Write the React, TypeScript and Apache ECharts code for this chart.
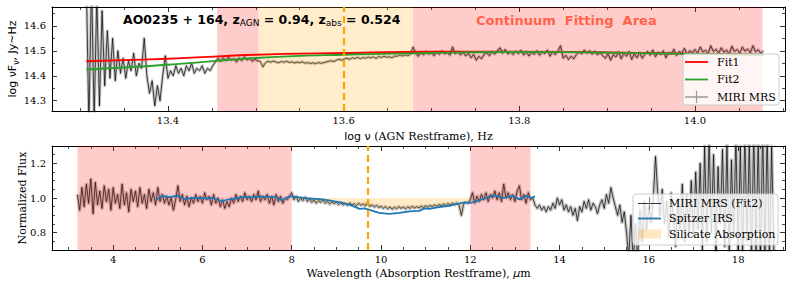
import React, { useEffect, useRef } from "react";
import * as echarts from "echarts";

// ---------------- Top panel: log nuFnu vs log nu (AGN restframe) ----------------
const topNuStart = 13.307;
const topNuStep = 0.003;
const topLogNuFnu = [
  // 13.307 - 13.325 (very noisy edge)
  14.80, 14.20, 14.78, 14.22, 14.72, 14.28, 14.66,
  14.36, 14.58, 14.39, 14.55, 14.38,
  14.50, 14.41, 14.47, 14.39, 14.46, 14.42, 14.49, 14.40, 14.45, 14.43, 14.55,
  14.40, 14.33, 14.38, 14.28, 14.36, 14.30,
  14.40, 14.48, 14.39, 14.42, 14.40, 14.44, 14.41, 14.43, 14.40, 14.44,
  14.42, 14.45, 14.41, 14.43, 14.42, 14.44, 14.41, 14.43, 14.42, 14.44,
  // pink window
  14.455, 14.47, 14.458, 14.472, 14.46, 14.475, 14.462, 14.468, 14.455, 14.472,
  14.46, 14.476, 14.463, 14.47, 14.458, 14.466, 14.46,
  // silicate window
  14.458, 14.435, 14.452, 14.458, 14.454, 14.459, 14.455, 14.452, 14.457, 14.454,
  14.458, 14.453, 14.456, 14.451, 14.455, 14.452, 14.456, 14.450, 14.453, 14.449,
  14.452, 14.448, 14.453, 14.450, 14.452,
  14.455, 14.458, 14.46, 14.457, 14.463, 14.466, 14.462, 14.468,
  14.47, 14.466, 14.472, 14.469, 14.474, 14.468, 14.473, 14.47, 14.475, 14.471,
  14.476, 14.469, 14.477, 14.473, 14.478, 14.474, 14.476, 14.472, 14.479,
  14.478, 14.483, 14.479, 14.484, 14.48, 14.486, 14.515,
  // continuum window
  14.49, 14.478, 14.495, 14.483, 14.498, 14.486, 14.492, 14.48, 14.496, 14.485,
  14.5, 14.487, 14.493, 14.482,
  14.515,
  14.488, 14.497, 14.483, 14.494, 14.479, 14.49, 14.472, 14.485, 14.462, 14.478, 14.468,
  14.486, 14.492, 14.48, 14.497, 14.486, 14.50, 14.512, 14.49, 14.505, 14.487,
  14.495, 14.485, 14.499, 14.488, 14.502, 14.483, 14.497, 14.479, 14.494, 14.486,
  14.5, 14.482, 14.496, 14.488, 14.503, 14.478, 14.495, 14.485, 14.499, 14.52,
  14.47, 14.482, 14.465, 14.478, 14.468, 14.485,
  14.495, 14.488, 14.503, 14.49, 14.5, 14.486, 14.498, 14.484, 14.493, 14.48,
  14.47, 14.488, 14.462, 14.485, 14.475, 14.495, 14.468, 14.49, 14.478, 14.497,
  14.465, 14.488, 14.472, 14.494, 14.47, 14.486,
  14.498, 14.482, 14.503, 14.476, 14.495, 14.485, 14.5, 14.472, 14.493, 14.488,
  14.506, 14.481, 14.497, 14.49, 14.51, 14.485, 14.5, 14.492,
  14.505, 14.49, 14.515, 14.495, 14.502, 14.488, 14.52, 14.497, 14.506, 14.49,
  14.512, 14.494, 14.503, 14.486, 14.518, 14.497, 14.505, 14.49, 14.515, 14.498,
  14.507, 14.492, 14.52, 14.496, 14.504, 14.49, 14.5,
];

const fitLogNu = [13.307, 13.40, 13.50, 13.60, 13.70, 13.79, 13.89, 13.98, 14.078];
const fit1Values = [14.458, 14.468, 14.484, 14.491, 14.496, 14.496, 14.494, 14.489, 14.484];
const fit2Values = [14.425, 14.444, 14.471, 14.484, 14.491, 14.495, 14.493, 14.488, 14.484];

const topRegionStart = [13.456, 13.503, 13.679];
const topRegionEnd = [13.503, 13.679, 14.077];
const topRegionKind = ["fit", "silicate", "fit"];
const topSilicateLine = 13.595;

// ---------------- Bottom panel: normalized flux vs wavelength (absorber restframe) ----------------
const botWaveStart = 3.2;
const botWaveStep = 0.05;
const botNormFlux = [
  // 3.20 - 4.95
  1.02, 0.93, 1.06, 0.95, 1.08, 0.97, 1.11, 0.91, 1.09, 0.96,
  1.04, 0.94, 1.07, 0.98, 1.05, 0.93, 1.06, 0.97, 1.02, 0.94,
  1.08, 0.96, 1.03, 0.92, 1.05, 0.98, 1.04, 0.95, 1.06, 0.97,
  1.02, 0.94, 1.05, 0.98, 1.03, 0.96,
  // 5.00 - 7.95
  1.06, 0.98, 1.02, 0.97, 1.01, 0.96, 1.0, 0.93, 0.99, 1.07,
  0.98, 1.02, 0.96, 1.01, 0.95, 1.0, 0.97, 1.02, 0.98, 1.01,
  0.97, 1.03, 0.99, 1.01, 0.96, 1.02, 0.97, 1.0, 0.95, 0.99,
  0.94, 0.98, 0.95, 1.0, 0.97, 1.02, 0.98, 1.01, 0.98, 1.03,
  0.99, 1.01, 0.98, 1.02, 0.99, 1.04, 0.98, 1.01, 0.99, 1.02,
  0.97, 1.01, 0.96, 1.02, 0.98, 1.01, 0.97, 1.0, 0.99, 1.01,
  // 8.00 - 8.95
  1.03, 0.99, 1.01, 0.98, 1.0, 0.985, 1.005, 0.98, 0.995, 0.975,
  0.99, 0.97, 0.985, 0.975, 0.99, 0.97, 0.98, 0.965, 0.978, 0.968,
  // 9.00 - 11.95
  0.975, 0.962, 0.972, 0.96, 0.968, 0.958, 0.972, 0.96, 0.967, 0.955,
  0.97, 0.958, 0.966, 0.955, 0.975, 0.952, 0.96, 0.948, 0.958, 0.945,
  0.952, 0.94, 0.95, 0.938, 0.948, 0.936, 0.946, 0.938, 0.95, 0.94,
  0.948, 0.937, 0.95, 0.94, 0.952, 0.942, 0.95, 0.943, 0.953, 0.945,
  0.955, 0.947, 0.957, 0.95, 0.96, 0.952, 0.962, 0.955, 0.965, 0.957,
  0.968, 0.96, 0.97, 0.962, 0.972, 0.958, 0.90, 0.965, 0.975, 0.97,
  // 12.00 - 13.30
  0.99, 1.03, 0.97, 1.01, 0.98, 1.02, 0.99, 1.03, 0.98, 1.02,
  1.0, 1.04, 0.99, 1.03, 0.98, 1.08, 1.0, 1.03, 0.99, 1.02,
  0.98, 1.04, 1.07, 0.99, 1.02, 0.97, 1.03,
  // 13.35 - 15.25
  0.99, 1.0, 0.96, 0.94, 0.96, 0.93, 0.95, 0.92, 0.95, 0.93,
  0.97, 0.94, 1.0, 0.96, 0.99, 0.93, 0.96, 0.92, 0.95, 0.9,
  0.94, 0.87, 0.95, 0.92, 0.98, 0.94, 0.99, 0.93, 0.97, 0.95,
  0.91, 0.96, 0.99, 0.94, 1.02, 0.97, 1.06, 1.0, 0.95,
  // 15.30 - 16.90
  0.9, 0.96, 0.86, 0.92, 0.8, 0.66, 0.9, 0.62, 0.85, 0.65,
  0.93, 0.75, 0.98, 0.82, 0.95, 0.86, 1.0, 1.24, 1.02, 0.9,
  1.05, 0.85, 0.98, 0.78, 1.03, 0.88, 0.72, 1.0, 0.82, 1.08,
  0.75, 1.02, 0.8,
  // 16.95 - 18.80
  1.1, 0.78, 1.15, 0.82, 1.2, 0.7, 1.3, 0.75, 1.35, 0.8,
  1.25, 0.68, 1.18, 0.85, 1.28, 0.72, 1.32, 0.66, 1.22, 0.78,
  1.36, 0.7, 1.3, 0.64, 1.38, 0.75, 1.33, 0.62, 1.4, 0.68,
  1.35, 0.6, 1.42, 0.66, 1.38, 0.62, 1.3, 0.7,
];

const irsWave = [
  4.97, 5.1, 5.25, 5.45, 5.6, 5.75, 5.94, 6.1, 6.23, 6.35,
  6.43, 6.55, 6.66, 6.8, 6.95, 7.1, 7.24, 7.4, 7.62, 7.7,
  7.78, 7.87, 7.95, 8.18, 8.4, 8.62, 8.8, 8.96, 9.1, 9.29,
  9.4, 9.52, 9.63, 9.78, 9.96, 10.19, 10.41, 10.64, 10.86, 10.97,
  11.08, 11.3, 11.53, 11.64, 11.86, 12.0, 12.14, 12.4, 12.5, 12.65,
  12.76, 12.95, 13.1, 13.25, 13.37, 13.45,
];
const irsFlux = [
  0.99, 1.013, 1.005, 1.013, 0.994, 1.0, 1.0, 0.997, 1.0, 0.99,
  0.98, 0.99, 0.994, 1.0, 1.006, 1.004, 1.01, 1.006, 1.006, 1.0,
  0.986, 1.0, 1.01, 1.003, 0.997, 0.994, 0.988, 0.98, 0.975, 0.962,
  0.95, 0.937, 0.94, 0.929, 0.914, 0.908, 0.914, 0.923, 0.926, 0.94,
  0.937, 0.948, 0.955, 0.962, 0.975, 0.972, 0.98, 1.005, 1.015, 1.008,
  1.0, 1.012, 0.992, 1.012, 1.0, 1.01,
];

const botRegionStart = [3.2, 12.0];
const botRegionEnd = [8.0, 13.35];
const silicateStart = 8.0;
const silicateEnd = 12.0;
const botSilicateLine = 9.7;
const continuumLevel = 1.0;

// axis ranges
const topXRange = [13.268, 14.1025];
const topYRange = [14.259, 14.675];
const botXRange = [2.63, 19.05];
const botYRange = [0.7, 1.3];

// colours
const PINK = "rgba(255,0,0,0.2)";
const ORANGE = "rgba(255,165,0,0.2)";
const SERIF = "DejaVu Serif";
const SANS = "DejaVu Sans";

const r4 = (v: number) => Math.round(v * 10000) / 10000;

function isMultiple(v: number, step: number) {
  const q = v / step;
  return Math.abs(q - Math.round(q)) < 1e-6;
}

function makeAxis(o: any) {
  return {
    type: "value",
    gridIndex: o.grid,
    position: o.position,
    min: o.min,
    max: o.max,
    splitNumber: o.split,
    axisLine: { show: true, onZero: false, lineStyle: { color: "#000", width: 1 } },
    axisTick: { show: true, inside: true, length: 5, lineStyle: { color: "#000", width: 0.8 } },
    minorTick: { show: true, splitNumber: o.minor, length: 3, lineStyle: { color: "#000", width: 0.7 } },
    splitLine: { show: false },
    minorSplitLine: { show: false },
    axisLabel: o.fmt
      ? {
          show: true,
          color: "#000",
          fontFamily: SERIF,
          fontSize: 10,
          margin: o.margin,
          formatter: o.fmt,
        }
      : { show: false },
    name: o.name,
    nameLocation: "middle",
    nameGap: o.nameGap,
    nameMoveOverlap: false,
    nameTextStyle: o.nameStyle,
  };
}

function buildOption() {
  const topSpec = topLogNuFnu.map((v, i) => [r4(topNuStart + i * topNuStep), v]);
  const botSpec = botNormFlux.map((v, i) => [r4(botWaveStart + i * botWaveStep), v]);
  const silPts = botSpec.filter((p) => p[0] >= silicateStart - 1e-9 && p[0] <= silicateEnd + 1e-9);
  const fit1 = fitLogNu.map((x, i) => [x, fit1Values[i]]);
  const fit2 = fitLogNu.map((x, i) => [x, fit2Values[i]]);
  const irs = irsWave.map((x, i) => [x, irsFlux[i]]);

  const topFmt = (v: number) => (isMultiple(v, 0.2) ? v.toFixed(1) : "");
  const topYFmt = (v: number) => (isMultiple(v, 0.1) ? v.toFixed(1) : "");
  const botFmt = (v: number) => (isMultiple(v, 2) ? String(Math.round(v)) : "");
  const botYFmt = (v: number) => (isMultiple(v, 0.2) ? v.toFixed(1) : "");

  const shadeRender = (starts: number[], ends: number[], colorOf: (i: number) => string, yr: number[]) =>
    (params: any, api: any) => {
      const i = params.dataIndex;
      const a = api.coord([starts[i], yr[1]]);
      const b = api.coord([ends[i], yr[0]]);
      return {
        type: "rect",
        shape: { x: a[0], y: a[1], width: b[0] - a[0], height: b[1] - a[1] },
        style: { fill: colorOf(i) },
      };
    };

  const silicateRender = (params: any, api: any) => {
    const pts = silPts.map((p) => api.coord([p[0], p[1]]));
    pts.push(api.coord([silicateEnd, continuumLevel]));
    pts.push(api.coord([silicateStart, continuumLevel]));
    return {
      type: "polygon",
      shape: { points: pts },
      style: { fill: "rgba(255,165,0,0.22)" },
    };
  };

  const dashed = (x: number) => ({
    silent: true,
    symbol: ["none", "none"],
    label: { show: false },
    lineStyle: { color: "#ffa500", width: 2.2, type: [7, 4] },
    data: [{ xAxis: x }],
    animation: false,
  });

  const legendText = (text: string, x: number, y: number) => ({
    type: "text",
    x,
    y,
    z: 101,
    style: { text, fill: "#000", fontFamily: SERIF, fontSize: 11, verticalAlign: "middle", textAlign: "left" },
  });
  const hline = (x1: number, x2: number, y: number, stroke: string, w: number) => ({
    type: "line",
    z: 101,
    shape: { x1, y1: y, x2, y2: y },
    style: { stroke, lineWidth: w },
  });
  const vline = (x: number, y1: number, y2: number, stroke: string, w: number) => ({
    type: "line",
    z: 101,
    shape: { x1: x, y1, x2: x, y2 },
    style: { stroke, lineWidth: w },
  });

  return {
    animation: false,
    backgroundColor: "#ffffff",
    grid: [
      { left: 52, top: 7, width: 733, height: 104, containLabel: false, outerBoundsMode: "none" },
      { left: 52, top: 146, width: 733, height: 104, containLabel: false, outerBoundsMode: "none" },
    ],
    xAxis: [
      makeAxis({
        grid: 0, position: "bottom", min: topXRange[0], max: topXRange[1], split: 5, minor: 4, fmt: topFmt, margin: 4,
        name: "{s|log ν}{r| (AGN Restframe), Hz}", nameGap: 20,
        nameStyle: {
          color: "#000",
          rich: {
            s: { fontFamily: SANS, fontSize: 11, color: "#000" },
            r: { fontFamily: SERIF, fontSize: 11, color: "#000" },
          },
        },
      }),
      makeAxis({ grid: 0, position: "top", min: topXRange[0], max: topXRange[1], split: 5, minor: 4 }),
      makeAxis({
        grid: 1, position: "bottom", min: botXRange[0], max: botXRange[1], split: 8, minor: 4, fmt: botFmt, margin: 4,
        name: "{r|Wavelength (Absorption Restframe), }{i|μ}{r|m}", nameGap: 18,
        nameStyle: {
          color: "#000",
          rich: {
            r: { fontFamily: SERIF, fontSize: 11, color: "#000" },
            i: { fontFamily: SANS, fontStyle: "italic", fontSize: 11, color: "#000" },
          },
        },
      }),
      makeAxis({ grid: 1, position: "top", min: botXRange[0], max: botXRange[1], split: 8, minor: 4 }),
    ],
    yAxis: [
      makeAxis({
        grid: 0, position: "left", min: topYRange[0], max: topYRange[1], split: 5, minor: 2, fmt: topYFmt, margin: 6,
        name: "{s|log νF}{u|ν}{s|, Jy~Hz}", nameGap: 32,
        nameStyle: {
          color: "#000",
          rich: {
            s: { fontFamily: SANS, fontSize: 11, lineHeight: 13, color: "#000", verticalAlign: "top" },
            u: { fontFamily: SANS, fontSize: 8, lineHeight: 6, color: "#000", verticalAlign: "bottom" },
          },
        },
      }),
      makeAxis({ grid: 0, position: "right", min: topYRange[0], max: topYRange[1], split: 5, minor: 2 }),
      makeAxis({
        grid: 1, position: "left", min: botYRange[0], max: botYRange[1], split: 3, minor: 4, fmt: botYFmt, margin: 6,
        name: "Normalized Flux", nameGap: 24,
        nameStyle: { color: "#000", fontFamily: SERIF, fontSize: 11 },
      }),
      makeAxis({ grid: 1, position: "right", min: botYRange[0], max: botYRange[1], split: 3, minor: 4 }),
    ],
    series: [
      // ---- top panel ----
      {
        name: "MIRI MRS err", type: "line", xAxisIndex: 0, yAxisIndex: 0, data: topSpec, symbol: "none",
        lineStyle: { color: "rgba(0,0,0,0.22)", width: 3, join: "round" }, z: 1, silent: true,
      },
      {
        name: "MIRI MRS", type: "line", xAxisIndex: 0, yAxisIndex: 0, data: topSpec, symbol: "none",
        lineStyle: { color: "#000", width: 0.7, join: "round" }, z: 2, silent: true,
      },
      {
        name: "top shading", type: "custom", xAxisIndex: 0, yAxisIndex: 0, z: 3, silent: true,
        data: topRegionStart.map((s, i) => [s, topRegionEnd[i]]),
        renderItem: shadeRender(topRegionStart, topRegionEnd, (i) => (topRegionKind[i] === "fit" ? PINK : ORANGE), topYRange),
      },
      {
        name: "Fit1", type: "line", xAxisIndex: 0, yAxisIndex: 0, data: fit1, symbol: "none", smooth: 0.4,
        lineStyle: { color: "#ff0000", width: 1.8 }, z: 4, silent: true,
        markLine: dashed(topSilicateLine),
      },
      {
        name: "Fit2", type: "line", xAxisIndex: 0, yAxisIndex: 0, data: fit2, symbol: "none", smooth: 0.4,
        lineStyle: { color: "#2ca02c", width: 1.8 }, z: 4, silent: true,
      },
      // ---- bottom panel ----
      {
        name: "MIRI MRS (Fit2) err", type: "line", xAxisIndex: 2, yAxisIndex: 2, data: botSpec, symbol: "none",
        lineStyle: { color: "rgba(0,0,0,0.22)", width: 3.5, join: "round" }, z: 1, silent: true,
      },
      {
        name: "MIRI MRS (Fit2)", type: "line", xAxisIndex: 2, yAxisIndex: 2, data: botSpec, symbol: "none",
        lineStyle: { color: "#000", width: 0.7, join: "round" }, z: 2, silent: true,
      },
      {
        name: "bottom shading", type: "custom", xAxisIndex: 2, yAxisIndex: 2, z: 3, silent: true,
        data: botRegionStart.map((s, i) => [s, botRegionEnd[i]]),
        renderItem: shadeRender(botRegionStart, botRegionEnd, () => PINK, botYRange),
      },
      {
        name: "Silicate Absorption", type: "custom", xAxisIndex: 2, yAxisIndex: 2, z: 3, silent: true,
        data: [[silicateStart, continuumLevel]],
        renderItem: silicateRender,
      },
      {
        name: "Spitzer IRS", type: "line", xAxisIndex: 2, yAxisIndex: 2, data: irs, symbol: "none",
        lineStyle: { color: "#1f77b4", width: 1.8 }, z: 4, silent: true,
        markLine: dashed(botSilicateLine),
      },
    ],
    graphic: [
      {
        type: "text", x: 123, y: 20, z: 100,
        style: {
          text: "{b|AO0235 + 164, z}{s|AGN}{b| = 0.94, z}{s|abs}{b| = 0.524}",
          verticalAlign: "middle",
          rich: {
            b: { fontFamily: SANS, fontWeight: "bold", fontSize: 12.5, lineHeight: 15, fill: "#000", verticalAlign: "top" },
            s: { fontFamily: SANS, fontSize: 9, lineHeight: 7, fill: "#000", verticalAlign: "bottom" },
          },
        },
      },
      {
        type: "text", x: 476, y: 20, z: 100,
        style: {
          text: "Continuum  Fitting  Area", fill: "#ff6347", fontFamily: SANS, fontWeight: "bold", fontSize: 13,
          verticalAlign: "middle",
        },
      },
      // top legend
      {
        type: "rect", z: 100, shape: { x: 683, y: 54, width: 96, height: 51, r: 3 },
        style: { fill: "rgba(255,255,255,0.8)", stroke: "#cccccc", lineWidth: 1 },
      },
      hline(685, 708, 62, "#ff0000", 1.8),
      legendText("Fit1", 717, 62),
      hline(685, 708, 79.5, "#2ca02c", 1.8),
      legendText("Fit2", 717, 79.5),
      hline(685, 708, 97, "#999999", 1.5),
      vline(696.5, 91, 103, "#999999", 1.2),
      legendText("MIRI MRS", 717, 97),
      // bottom legend
      {
        type: "rect", z: 100, shape: { x: 633, y: 194, width: 145, height: 51, r: 3 },
        style: { fill: "rgba(255,255,255,0.8)", stroke: "#cccccc", lineWidth: 1 },
      },
      hline(638, 661, 203.5, "#000000", 0.8),
      vline(649.5, 197, 210, "#888888", 1),
      legendText("MIRI MRS (Fit2)", 669, 203.5),
      hline(638, 661, 218.5, "#1f77b4", 1.8),
      legendText("Spitzer IRS", 669, 218.5),
      {
        type: "rect", z: 101, shape: { x: 638, y: 229.5, width: 23, height: 9 },
        style: { fill: "rgba(255,165,0,0.25)" },
      },
      legendText("Silicate Absorption", 669, 234),
    ],
  };
}

export default function App() {
  const ref = useRef<HTMLDivElement>(null);
  useEffect(() => {
    if (!ref.current) return;
    const chart = echarts.init(ref.current, null, { renderer: "svg" });
    chart.setOption(buildOption() as any);
    return () => chart.dispose();
  }, []);
  return <div ref={ref} style={{ position: "absolute", left: 0, top: 0, width: 793, height: 289 }} />;
}
